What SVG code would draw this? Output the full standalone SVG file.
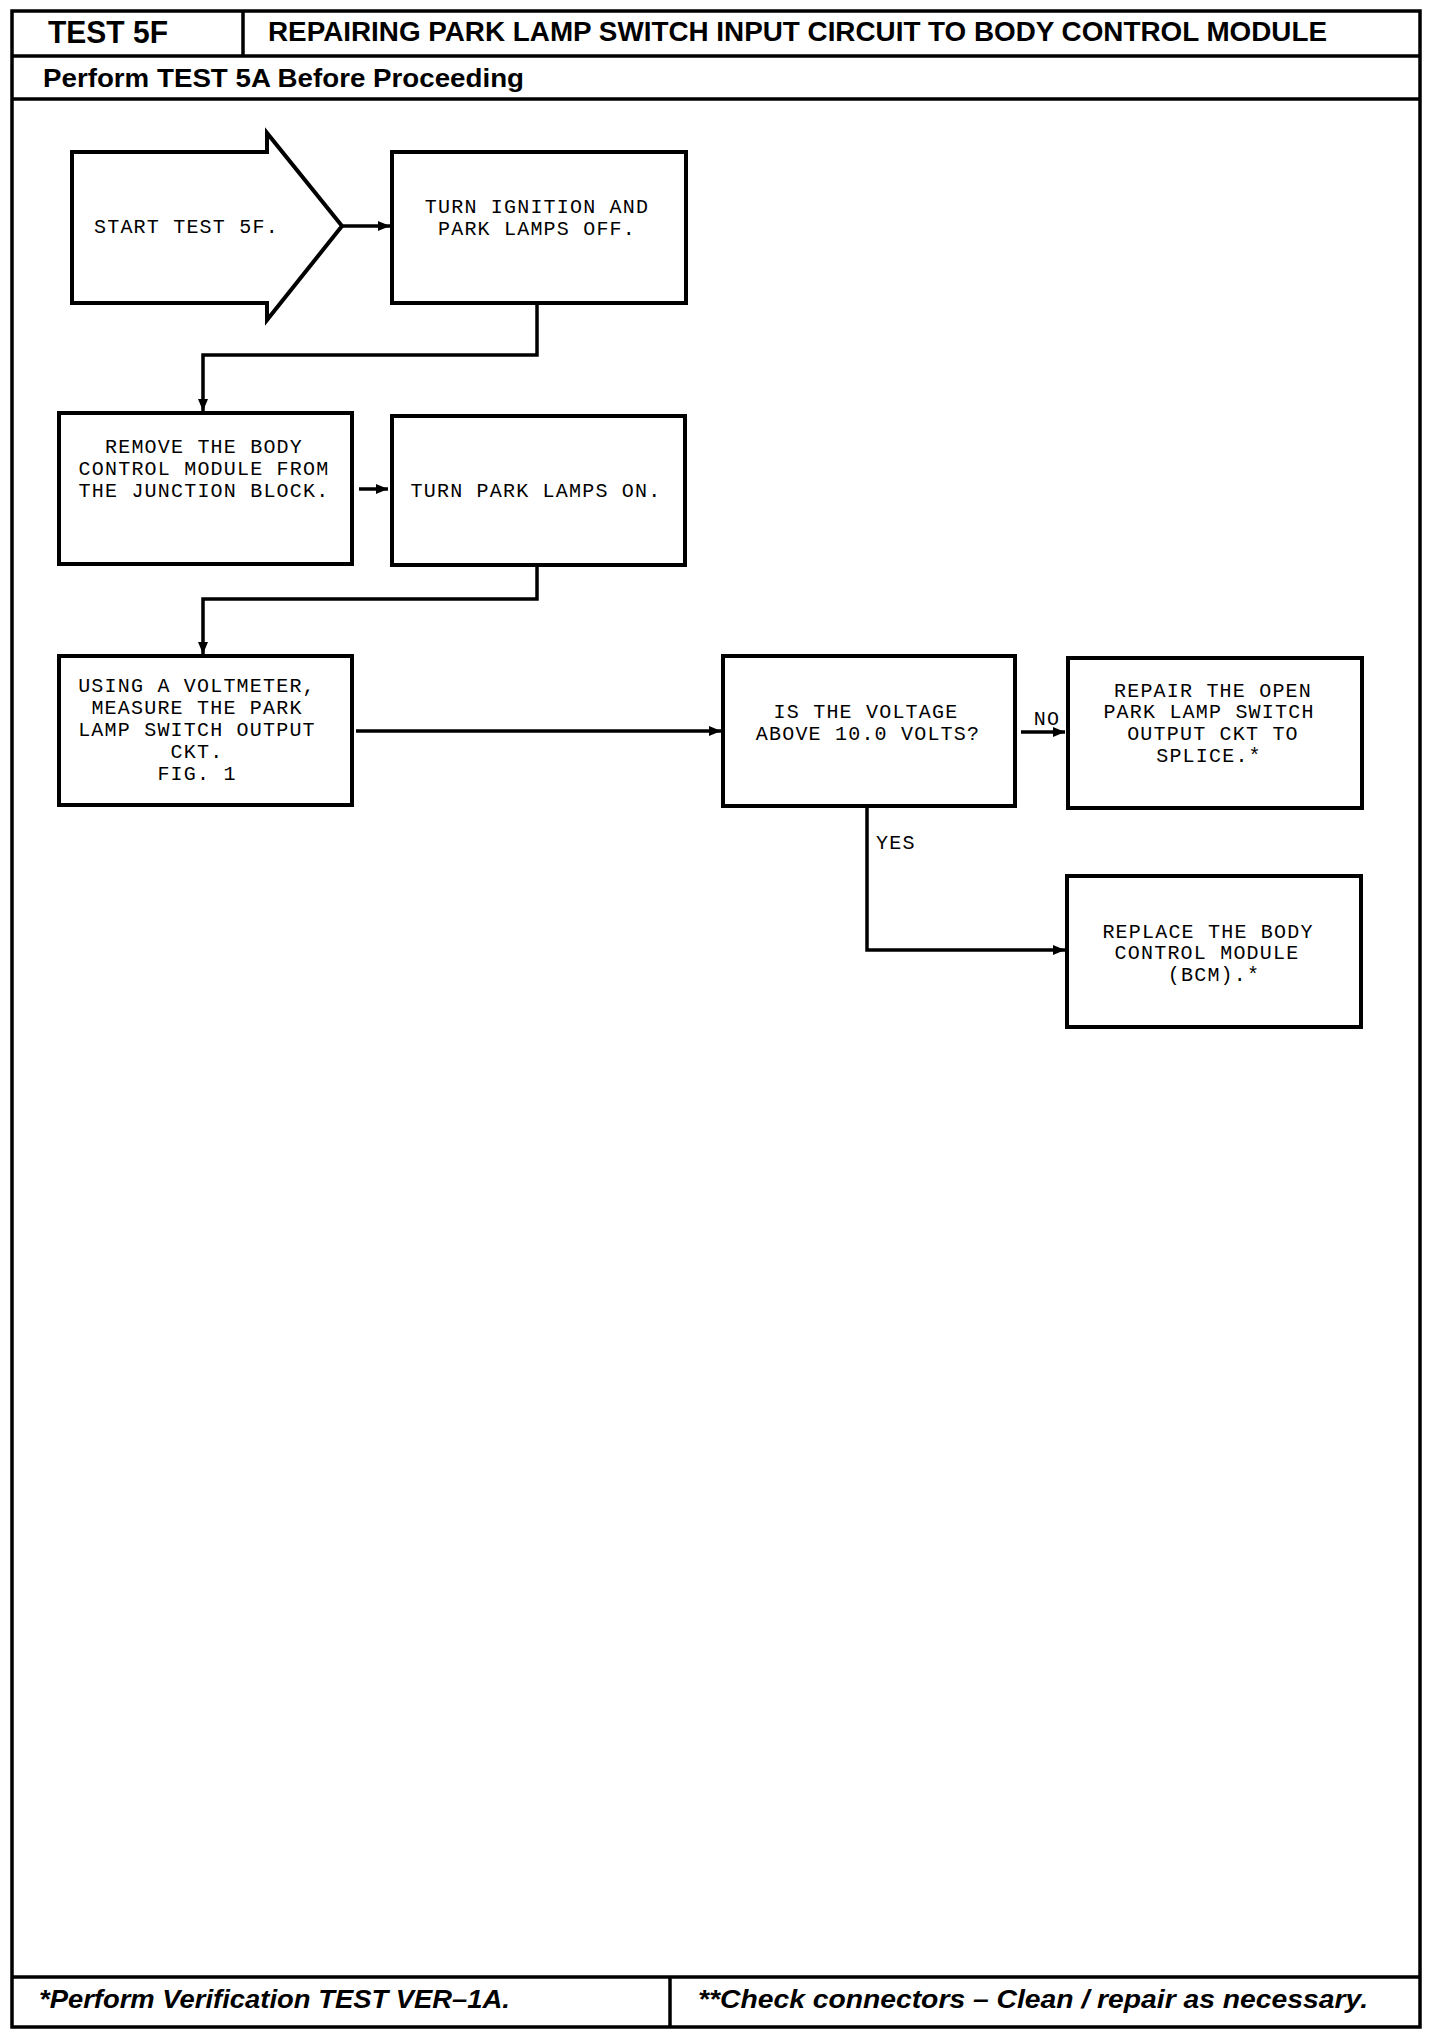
<svg xmlns="http://www.w3.org/2000/svg" width="1440" height="2036" viewBox="0 0 1440 2036">
<style>
.frame{fill:none;stroke:#000;stroke-width:3.5}
.box{fill:#fff;stroke:#000;stroke-width:4}
.conn{fill:none;stroke:#000;stroke-width:3.5}
.t{font-family:"Liberation Mono","DejaVu Sans Mono",monospace;font-size:20px;letter-spacing:1.2px;fill:#000}
.c{text-anchor:middle}
.h{font-family:"Liberation Sans",Arial,sans-serif;font-weight:bold;fill:#000}
.f{font-family:"Liberation Sans",Arial,sans-serif;font-weight:bold;font-style:italic;font-size:26px;fill:#000}
</style>
<defs>
<marker id="ah" markerUnits="userSpaceOnUse" markerWidth="13" markerHeight="12" viewBox="0 0 13 12" refX="12" refY="6" orient="auto">
<path d="M0,1 L12,6 L0,11 Z" fill="#000"/>
</marker>
</defs>
<rect width="1440" height="2036" fill="#fff"/>
<g id="frame">
<rect class="frame" x="12" y="11" width="1408" height="2016"/>
<line class="frame" x1="12" y1="56" x2="1420" y2="56"/>
<line class="frame" x1="243" y1="11" x2="243" y2="56"/>
<line class="frame" x1="12" y1="99" x2="1420" y2="99"/>
<line class="frame" x1="12" y1="1977" x2="1420" y2="1977"/>
<line class="frame" x1="670" y1="1977" x2="670" y2="2027"/>
<text class="h" x="48" y="43" font-size="32" textLength="120" lengthAdjust="spacingAndGlyphs">TEST 5F</text>
<text class="h" x="268" y="41" font-size="27" textLength="1059" lengthAdjust="spacingAndGlyphs">REPAIRING PARK LAMP SWITCH INPUT CIRCUIT TO BODY CONTROL MODULE</text>
<text class="h" x="43" y="87" font-size="26" textLength="481" lengthAdjust="spacingAndGlyphs">Perform TEST 5A Before Proceeding</text>
<text class="f" x="39" y="2008" textLength="471" lengthAdjust="spacingAndGlyphs">*Perform Verification TEST VER–1A.</text>
<text class="f" x="698" y="2008" textLength="670" lengthAdjust="spacingAndGlyphs">**Check connectors – Clean / repair as necessary.</text>
</g>
<g id="connectors">
<line class="conn" x1="342" y1="226" x2="390" y2="226" marker-end="url(#ah)"/>
<polyline class="conn" points="537,303 537,355 203,355 203,411" marker-end="url(#ah)"/>
<line class="conn" x1="359" y1="489" x2="388" y2="489" marker-end="url(#ah)"/>
<polyline class="conn" points="537,565 537,599 203,599 203,654" marker-end="url(#ah)"/>
<line class="conn" x1="356" y1="731" x2="721" y2="731" marker-end="url(#ah)"/>
<line class="conn" x1="1021" y1="732" x2="1065" y2="732" marker-end="url(#ah)"/>
<polyline class="conn" points="867,806 867,950 1065,950" marker-end="url(#ah)"/>
<text class="t c" x="1047" y="725">NO</text>
<text class="t" x="876" y="849">YES</text>
</g>
<g id="start">
<path class="box" stroke-width="3.5" d="M72,152 L267,152 L267,133 L342,226 L267,320 L267,303 L72,303 Z"/>
<text class="t" x="94" y="233">START TEST 5F.</text>
</g>
<g id="ignition-off">
<rect class="box" x="392" y="152" width="294" height="151"/>
<text class="t c" x="537" y="213">TURN IGNITION AND</text>
<text class="t c" x="537" y="235">PARK LAMPS OFF.</text>
</g>
<g id="remove-bcm">
<rect class="box" x="59" y="413" width="293" height="151"/>
<text class="t c" x="204" y="453">REMOVE THE BODY</text>
<text class="t c" x="204" y="475">CONTROL MODULE FROM</text>
<text class="t c" x="204" y="497">THE JUNCTION BLOCK.</text>
</g>
<g id="park-lamps-on">
<rect class="box" x="392" y="416" width="293" height="149"/>
<text class="t c" x="536" y="497">TURN PARK LAMPS ON.</text>
</g>
<g id="measure">
<rect class="box" x="59" y="656" width="293" height="149"/>
<text class="t c" x="197" y="692">USING A VOLTMETER,</text>
<text class="t c" x="197" y="714">MEASURE THE PARK</text>
<text class="t c" x="197" y="736">LAMP SWITCH OUTPUT</text>
<text class="t c" x="197" y="758">CKT.</text>
<text class="t c" x="197" y="780">FIG. 1</text>
</g>
<g id="voltage-check">
<rect class="box" x="723" y="656" width="292" height="150"/>
<text class="t c" x="866" y="718">IS THE VOLTAGE</text>
<text class="t c" x="868" y="740">ABOVE 10.0 VOLTS?</text>
</g>
<g id="repair-open">
<rect class="box" x="1068" y="658" width="294" height="150"/>
<text class="t c" x="1213" y="697">REPAIR THE OPEN</text>
<text class="t c" x="1209" y="718">PARK LAMP SWITCH</text>
<text class="t c" x="1213" y="740">OUTPUT CKT TO</text>
<text class="t c" x="1209" y="762">SPLICE.*</text>
</g>
<g id="replace-bcm">
<rect class="box" x="1067" y="876" width="294" height="151"/>
<text class="t c" x="1208" y="938">REPLACE THE BODY</text>
<text class="t c" x="1207" y="959">CONTROL MODULE</text>
<text class="t c" x="1214" y="981">(BCM).*</text>
</g>
</svg>
